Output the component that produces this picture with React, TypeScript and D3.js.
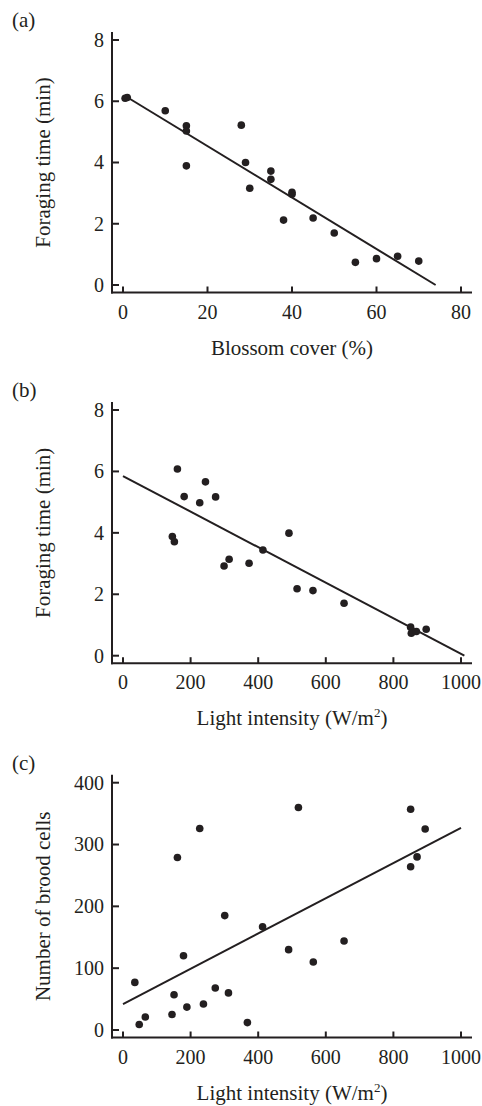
import * as d3 from "d3";

// panel (a): blossom cover vs foraging time
const blossomX = [0.5, 1, 10, 15, 15, 15, 28, 29, 30, 35, 35, 38, 40, 40, 45, 50, 55, 60, 65, 70];
const blossomY = [6.1, 6.12, 5.69, 5.2, 5.03, 3.89, 5.22, 4.0, 3.16, 3.72, 3.45, 2.12, 2.96, 3.03, 2.19, 1.7, 0.74, 0.86, 0.94, 0.78];
const blossomFit = [[1, 6.13], [74, 0]];

// panel (b): light intensity vs foraging time
const lightXb = [161, 181, 244, 227, 274, 146, 152, 491, 414, 299, 314, 373, 515, 562, 654, 851, 853, 868, 897];
const lightYb = [6.08, 5.18, 5.66, 4.98, 5.17, 3.88, 3.71, 3.99, 3.44, 2.92, 3.14, 3.01, 2.18, 2.12, 1.71, 0.93, 0.73, 0.79, 0.86];
const lightFitB = [[0, 5.85], [1010, 0]];

// panel (c): light intensity vs number of brood cells
const lightXc = [161, 227, 519, 301, 851, 894, 870, 851, 413, 35, 179, 48, 66, 145, 151, 189, 238, 273, 312, 368, 490, 563, 654];
const broodY = [279, 326, 360, 185, 357, 325, 280, 264, 167, 77, 120, 9, 21, 25, 57, 37, 42, 68, 60, 12, 130, 110, 144];
const broodFit = [[0, 42], [1000, 327]];

const ticksA = [0, 20, 40, 60, 80];
const ticksLight = [0, 200, 400, 600, 800, 1000];
const ticksMin = [0, 2, 4, 6, 8];
const ticksBrood = [0, 100, 200, 300, 400];

const FONT = "Liberation Serif, DejaVu Serif, serif";
const INK = "#231f20";

type PanelProps = {
  tag: string;
  top: number; // y of the highest y tick
  bottom: number; // y of the zero y tick
  xs: number[];
  ys: number[];
  fit: number[][];
  xDomain: [number, number];
  yDomain: [number, number];
  xTicks: number[];
  yTicks: number[];
  xLabel: React.ReactNode;
  yLabel: string;
};

const AXIS_X = 112;
const LEFT = 123;
const RIGHT = 461;

const Panel = ({ tag, top, bottom, xs, ys, fit, xDomain, yDomain, xTicks, yTicks, xLabel, yLabel }: PanelProps) => {
  const x = d3.scaleLinear().domain(xDomain).range([LEFT, RIGHT]);
  const y = d3.scaleLinear().domain(yDomain).range([bottom, top]);
  const axisY = bottom + 7.5;
  const line = d3.line<number[]>().x((d) => x(d[0])).y((d) => y(d[1]));

  return (
    <g>
      <text x={12} y={top - 13} fontSize={21}>{tag}</text>
      {/* axes */}
      <line x1={AXIS_X} x2={AXIS_X} y1={top - 8} y2={axisY + 1} stroke={INK} strokeWidth={2} />
      <line x1={AXIS_X - 1} x2={472} y1={axisY} y2={axisY} stroke={INK} strokeWidth={2} />
      {yTicks.map((t) => (
        <g key={"y" + t}>
          <line x1={AXIS_X} x2={AXIS_X + 7} y1={y(t)} y2={y(t)} stroke={INK} strokeWidth={2} />
          <text x={104} y={y(t)} dy="0.34em" textAnchor="end" fontSize={20}>{t}</text>
        </g>
      ))}
      {xTicks.map((t) => (
        <g key={"x" + t}>
          <line x1={x(t)} x2={x(t)} y1={axisY} y2={axisY - 6} stroke={INK} strokeWidth={2} />
          <text x={x(t)} y={axisY + 26} textAnchor="middle" fontSize={20}>{t}</text>
        </g>
      ))}
      <text x={x((xDomain[0] + xDomain[1]) / 2)} y={axisY + 62} textAnchor="middle" fontSize={21}>{xLabel}</text>
      <text transform={`translate(50,${(top + bottom) / 2}) rotate(-90)`} textAnchor="middle" fontSize={21}>{yLabel}</text>
      {/* fit line */}
      <path d={line(fit) || ""} fill="none" stroke={INK} strokeWidth={2} />
      {xs.map((v, i) => (
        <circle key={i} cx={x(v)} cy={y(ys[i])} r={3.8} fill={INK} />
      ))}
    </g>
  );
};

const lightLabel = (
  <>
    Light intensity (W/m<tspan fontSize={13} dy={-8}>2</tspan><tspan dy={8}>)</tspan>
  </>
);

export default function App() {
  return (
    <svg width={482} height={1106} style={{ position: "absolute", left: 0, top: 0, background: "#fff", fontFamily: FONT, fill: INK }}>
      <Panel tag="(a)" top={40} bottom={285} xs={blossomX} ys={blossomY} fit={blossomFit}
        xDomain={[0, 80]} yDomain={[0, 8]} xTicks={ticksA} yTicks={ticksMin}
        xLabel="Blossom cover (%)" yLabel="Foraging time (min)" />
      <Panel tag="(b)" top={410} bottom={655.7} xs={lightXb} ys={lightYb} fit={lightFitB}
        xDomain={[0, 1000]} yDomain={[0, 8]} xTicks={ticksLight} yTicks={ticksMin}
        xLabel={lightLabel} yLabel="Foraging time (min)" />
      <Panel tag="(c)" top={782.7} bottom={1030} xs={lightXc} ys={broodY} fit={broodFit}
        xDomain={[0, 1000]} yDomain={[0, 400]} xTicks={ticksLight} yTicks={ticksBrood}
        xLabel={lightLabel} yLabel="Number of brood cells" />
    </svg>
  );
}
